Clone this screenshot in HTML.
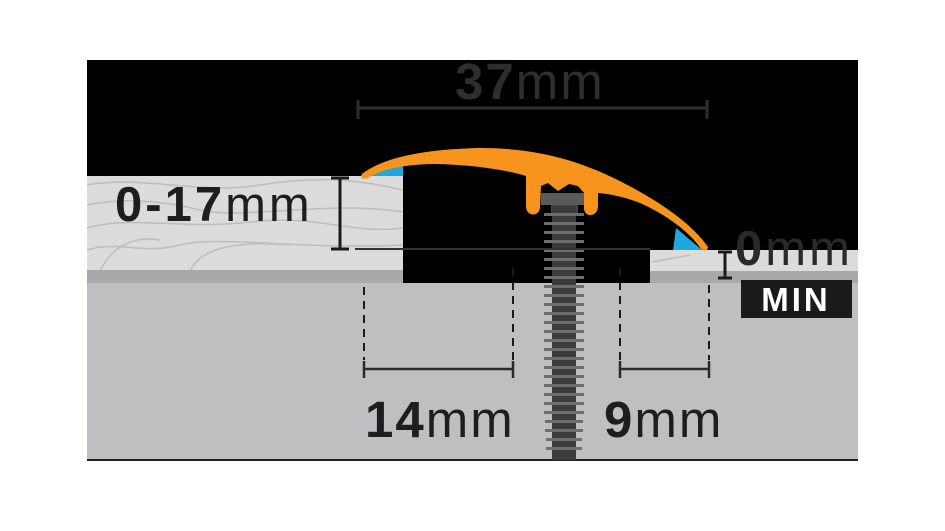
<!DOCTYPE html>
<html><head><meta charset="utf-8"><style>
html,body{margin:0;padding:0;background:#fff;}
svg{display:block;}
text{font-family:"Liberation Sans",sans-serif;}
</style></head><body>
<svg width="945" height="531" viewBox="0 0 945 531" xmlns="http://www.w3.org/2000/svg">
<rect x="0" y="0" width="945" height="531" fill="#fff"/>
<rect x="87" y="60" width="771" height="224" fill="#000"/>
<rect x="87" y="283" width="771" height="177" fill="#bfbfc1"/>
<rect x="87" y="459" width="771" height="2" fill="#222"/>
<rect x="87" y="176" width="316" height="95" fill="#dcdcdc"/>
<g fill="none" stroke="#bdbdbd" stroke-width="1.5">
<path d="M87 185 C140 175 200 195 260 185 S360 180 403 190"/>
<path d="M87 205 C120 198 160 200 200 210 S330 200 403 212"/>
<path d="M87 228 C130 215 180 230 250 222 S350 235 403 228"/>
<path d="M87 250 C120 240 140 255 180 245 S300 250 403 245"/>
<path d="M100 271 C110 250 130 235 160 240"/>
<path d="M190 271 C200 250 230 240 290 245"/>
</g>
<rect x="87" y="270" width="316" height="13" fill="#a8a8aa"/>
<rect x="650" y="250" width="208" height="22" fill="#dcdcdc"/>
<path d="M652 262 L690 255" stroke="#bdbdbd" stroke-width="1.5"/>
<rect x="650" y="271" width="208" height="12" fill="#a8a8aa"/>
<polygon points="372,169 403,164 403,176 366,176" fill="#1fa8e0"/>
<polygon points="673,250 676,228 702,250" fill="#1fa8e0"/>
<!-- screw -->
<rect x="541" y="193" width="47" height="12" fill="#5a5a5a"/>
<rect x="551" y="205" width="27" height="10" fill="#444"/>
<rect x="552" y="206" width="24" height="254" fill="#3c3c3c"/>
<g fill="#6e6e6e">
<rect x="544" y="213" width="40" height="3"/><rect x="544" y="222" width="40" height="3"/><rect x="544" y="231" width="40" height="3"/><rect x="544" y="240" width="40" height="3"/><rect x="544" y="249" width="40" height="3"/><rect x="544" y="258" width="40" height="3"/><rect x="544" y="267" width="40" height="3"/><rect x="544" y="276" width="40" height="3"/><rect x="544" y="285" width="40" height="3"/><rect x="544" y="294" width="40" height="3"/><rect x="544" y="303" width="40" height="3"/><rect x="544" y="312" width="40" height="3"/><rect x="544" y="321" width="40" height="3"/><rect x="544" y="330" width="40" height="3"/><rect x="544" y="339" width="40" height="3"/><rect x="544" y="348" width="40" height="3"/><rect x="544" y="357" width="40" height="3"/><rect x="544" y="366" width="40" height="3"/><rect x="544" y="375" width="40" height="3"/><rect x="544" y="384" width="40" height="3"/><rect x="544" y="393" width="40" height="3"/><rect x="544" y="402" width="40" height="3"/><rect x="544" y="411" width="40" height="3"/><rect x="545" y="420" width="38" height="3"/><rect x="545" y="429" width="38" height="3"/><rect x="546" y="438" width="36" height="3"/><rect x="546" y="447" width="36" height="3"/>
</g>
<!-- orange profile -->
<path d="M362 174 C385 156 430 149 480 148 C530 148 570 158 605 174 C645 192 690 220 708 247 Q707 253 701 249 C690 232 665 214 640 203 C625 197 610 194 598 193 L598 206 C598 217 585 218 584 209 L584 193 L578 186 L569 184 L558 191 L548 183 L541 186 L540 208 C539 217 526 217 526 206 L526 176 C500 168 460 164 430 164 C400 165 380 170 368 178 C364 180 359 178 362 174 Z" fill="#f7941d"/>
<g stroke="#2e2e2e" stroke-width="3">
<line x1="358" y1="108" x2="707" y2="108"/>
<line x1="358" y1="100" x2="358" y2="119"/>
<line x1="707" y1="100" x2="707" y2="119"/>
</g>
<text x="455" y="99" font-size="51" fill="#2e2e2e" letter-spacing="2"><tspan font-weight="bold">37</tspan>mm</text>
<g stroke="#1a1a1a" stroke-width="3">
<line x1="340" y1="178" x2="340" y2="249"/>
<line x1="331" y1="178" x2="349" y2="178"/>
<line x1="331" y1="249" x2="349" y2="249"/>
</g>
<line x1="355" y1="249" x2="650" y2="249" stroke="#333" stroke-width="2"/>
<text x="115" y="221" font-size="49" fill="#1e1e1e" letter-spacing="3"><tspan font-weight="bold">0-17</tspan>mm</text>
<g stroke="#1a1a1a" stroke-width="3">
<line x1="725" y1="252" x2="725" y2="278"/>
<line x1="718" y1="252" x2="732" y2="252"/>
<line x1="718" y1="278" x2="732" y2="278"/>
</g>
<text x="735" y="265" font-size="49" fill="#2a2a2a" letter-spacing="3"><tspan font-weight="bold">0</tspan>mm</text>
<rect x="741" y="280" width="111" height="38" fill="#1a1a1a"/>
<text x="796" y="311" font-size="33" font-weight="bold" fill="#fff" text-anchor="middle" letter-spacing="3">MIN</text>
<g stroke="#1a1a1a" stroke-width="2" stroke-dasharray="8,6">
<line x1="364" y1="287" x2="364" y2="360"/>
<line x1="513" y1="268" x2="513" y2="360"/>
<line x1="620" y1="268" x2="620" y2="360"/>
<line x1="709" y1="285" x2="709" y2="360"/>
</g>
<g stroke="#2a2a2a" stroke-width="2.5">
<line x1="364" y1="369" x2="513" y2="369"/>
<line x1="364" y1="361" x2="364" y2="378"/>
<line x1="513" y1="361" x2="513" y2="378"/>
<line x1="620" y1="369" x2="709" y2="369"/>
<line x1="620" y1="361" x2="620" y2="378"/>
<line x1="709" y1="361" x2="709" y2="378"/>
</g>
<text x="365" y="437" font-size="51" fill="#1e1e1e" letter-spacing="2"><tspan font-weight="bold">14</tspan>mm</text>
<text x="604" y="437" font-size="51" fill="#1e1e1e" letter-spacing="2"><tspan font-weight="bold">9</tspan>mm</text>
</svg>
</body></html>
